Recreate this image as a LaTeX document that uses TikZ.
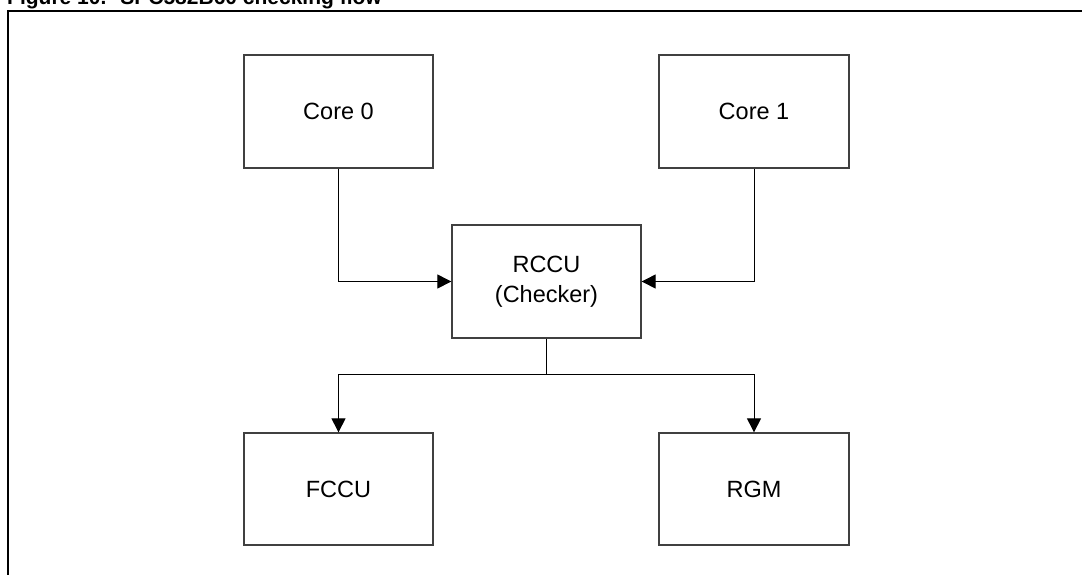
\documentclass[tikz,border=0pt]{standalone}
\usepackage{fontspec}
\setmainfont{Liberation Sans}
\usetikzlibrary{arrows.meta}
\begin{document}
\begin{tikzpicture}[x=1pt,y=-1pt,
  blk/.style={draw=black!75,line width=1.3pt,fill=white,inner sep=0pt,
    minimum width=189pt,minimum height=113pt,align=center,
    font=\fontsize{23.5}{30}\selectfont},
  conn/.style={draw=black,line width=1pt},
  arr/.style={conn,-{Triangle[length=14pt,width=14pt]}}]
\useasboundingbox (0,0) rectangle (1082,574);
\clip (0,0) rectangle (1082,574);
\fill[white] (0,0) rectangle (1082,574);
% title (clipped at top)
\node[anchor=base west,inner sep=0pt,font=\fontsize{21}{24}\selectfont\bfseries] (title) at (7,4.5) {Figure 10.\hspace{14pt}SPC582B60 checking flow};
% frame
\draw[line width=2pt] (7.5,600) -- (7.5,10.5) -- (1100,10.5);
% blocks
\node[blk] (core0) at (338.5,111.5) {Core 0};
\node[blk,minimum width=190pt] (core1) at (754,111.5) {Core 1};
\node[blk] (rccu) at (546.5,281.5) {RCCU\\(Checker)};
\node[blk,minimum height=112pt] (fccu) at (338.5,489) {FCCU};
\node[blk,minimum width=190pt,minimum height=112pt] (rgm) at (754,489) {RGM};
\coordinate (j) at (546.5,374.5);
% connectors
\draw[arr] (core0.south) |- (rccu.west);
\draw[arr] (core1.south) |- (rccu.east);
\draw[conn] (rccu.south) -- (j);
\draw[arr] (j) -| (fccu.north);
\draw[arr] (j) -| (rgm.north);
\end{tikzpicture}
\end{document}
